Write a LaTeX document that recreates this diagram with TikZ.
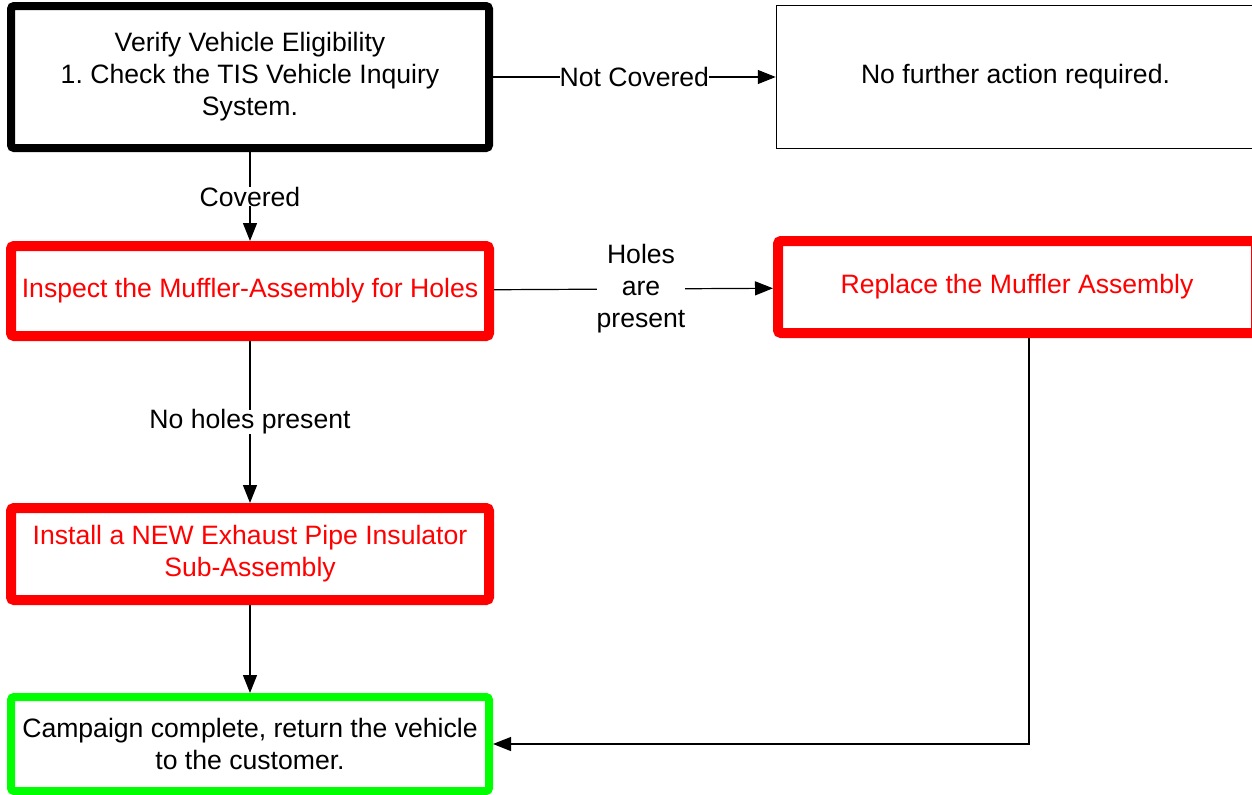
\documentclass[tikz,border=0pt]{standalone}
\usepackage{fontspec}
\setmainfont{Liberation Sans}
\usetikzlibrary{positioning, arrows.meta}
\frenchspacing

\begin{document}
\begin{tikzpicture}
	[on grid, font=\fontsize{13.3}{16}\selectfont,
	 box/.style={rectangle, draw, rounded corners=1.5pt, minimum width=239pt, minimum height=46pt, inner sep=0pt, align=center},
	 checkbox/.style={box, line width=4pt},
	 redbox/.style={box, draw=red, text=red, line width=5pt},
	 donebox/.style={box, draw=green, line width=4pt},
	 lbl/.style={fill=white, inner sep=0pt, align=center},
	 link/.style={-{Triangle[length=9pt,width=7pt]}, line width=0.6pt}]
   \useasboundingbox (0,0) rectangle (626pt,-397pt);
   \node[checkbox, minimum height=71pt] (verify) at (125pt,-38.5pt) {Verify Vehicle Eligibility\\1. Check the TIS Vehicle Inquiry\\System.};
   \node[box, line width=0.75pt, minimum height=71.5pt, rounded corners=0pt] (nofurther) [right=382.75pt of verify] {No further action required.};
   \node[redbox, minimum height=45pt] (inspect) [below=107pt of verify] {Inspect the Muffler-Assembly for Holes};
   \node[redbox] (replace) [right=383.5pt of inspect, yshift=2pt] {Replace the Muffler Assembly};
   \node[redbox] (install) [below=131.5pt of inspect] {Install a NEW Exhaust Pipe Insulator\\Sub-Assembly};
   \node[donebox, minimum height=47pt] (campaign) [below=95pt of install] {Campaign complete, return the vehicle\\to the customer.};
    \path[link]
    (verify) edge node[lbl] {Not Covered} (nofurther)
             edge node[lbl] {Covered} (inspect)
    (inspect) edge node[lbl, pos=0.527] {Holes\\are\\present} (replace)
              edge node[lbl] {No holes present} (install)
    (install) edge (campaign);
    \draw[link] ([xshift=6pt]replace.south) |- (campaign.east);
\end{tikzpicture}
\end{document}
